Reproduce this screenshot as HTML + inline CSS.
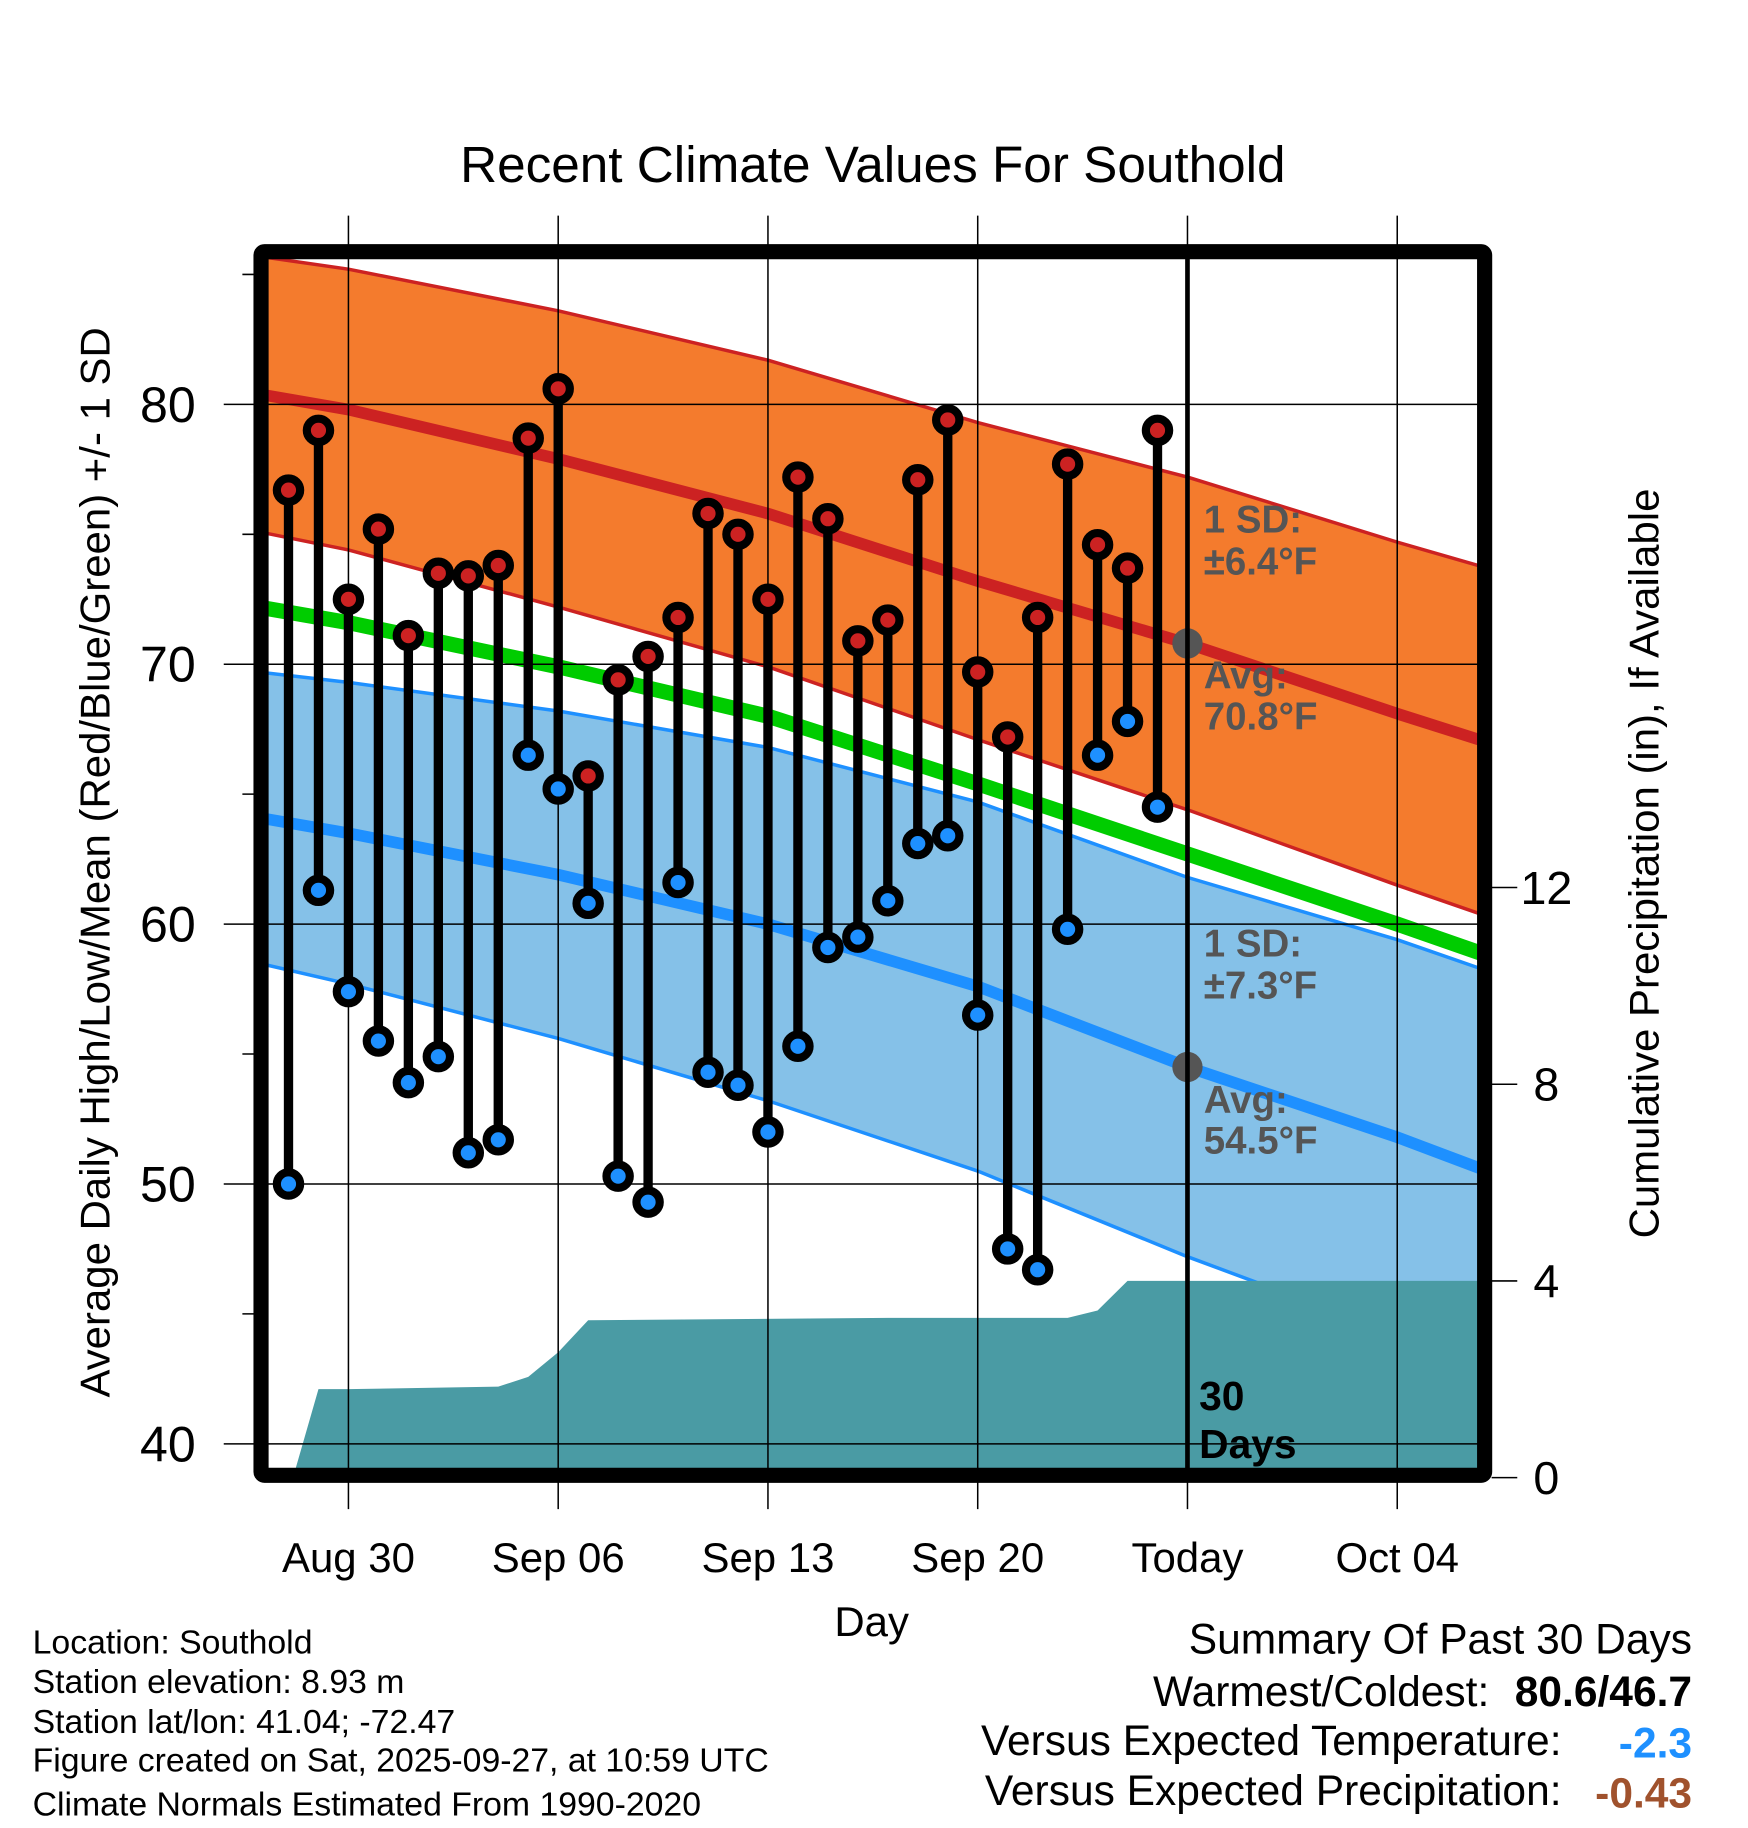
<!DOCTYPE html>
<html><head><meta charset="utf-8"><style>
html,body{margin:0;padding:0;background:#fff}
svg{display:block}
text{font-family:"Liberation Sans",Arial,sans-serif}
</style></head><body>
<svg id="chart" xmlns="http://www.w3.org/2000/svg" width="1748" height="1828" viewBox="0 0 1500 1568.65">
<defs><clipPath id="pc"><rect x="230" y="222" width="1038" height="1038"/></clipPath></defs>
<g id="plot" clip-path="url(#pc)"></g>
<g id="over"></g>
</svg>
<script>
const days=[-2,-1,0,1,2,3,4,5,6,7,8,9,10,11,12,13,14,15,16,17,18,19,20,21,22,23,24,25,26,27];
const highs=[76.7,79.0,72.5,75.2,71.1,73.5,73.4,73.8,78.7,80.6,65.7,69.4,70.3,71.8,75.8,75.0,72.5,77.2,75.6,70.9,71.7,77.1,79.4,69.7,67.2,71.8,77.7,74.6,73.7,79.0];
const lows=[50.0,61.3,57.4,55.5,53.9,54.9,51.2,51.7,66.5,65.2,60.8,50.3,49.3,61.6,54.3,53.8,52.0,55.3,59.1,59.5,60.9,63.1,63.4,56.5,47.5,46.7,59.8,66.5,67.8,64.5];
const normDays=[-3,0,7,14,21,28,35,38];
const normHigh=[80.4,79.8,77.9,75.8,73.2,70.8,68.1,67.0];
const sdHigh=[5.3,5.4,5.7,5.9,6.1,6.4,6.6,6.7];
const normLow=[64.1,63.5,61.9,60.0,57.6,54.5,51.8,50.5];
const sdLow=[5.6,5.8,6.3,6.8,7.1,7.3,7.6,7.7];
const normMean=[72.2,71.6,69.9,68.0,65.4,62.7,60.0,58.8];
const precipDays=[-1.85,-1,0,5,6,7,8,18,24,25,26,38];
const precipVals=[0,1.8,1.8,1.85,2.05,2.55,3.2,3.25,3.25,3.4,4.0,4.0];
const xTickDays=[0,7,14,21,28,35];
const xTickLabels=["Aug 30","Sep 06","Sep 13","Sep 20","Today","Oct 04"];
const yTicks=[40,50,60,70,80];
const yMinor=[45,55,65,75,85];
const pTicks=[0,4,8,12];

const X=d=>299+d*180/7;
const Y=v=>347+(80-v)*22.3;
const P=v=>1268-v*42.2;
const NS="http://www.w3.org/2000/svg";
const plot=document.getElementById('plot'),over=document.getElementById('over');
function mk(tag,attrs,parent,txt){const e=document.createElementNS(NS,tag);for(const k in attrs)e.setAttribute(k,attrs[k]);if(txt!==undefined)e.textContent=txt;parent.appendChild(e);return e;}
function line(arr,f){return normDays.map((d,i)=>X(d).toFixed(1)+','+Y(f(i)).toFixed(1)).join(' ');}
function band(up,lo){const a=normDays.map((d,i)=>X(d)+','+Y(up(i)));const b=normDays.map((d,i)=>X(d)+','+Y(lo(i))).reverse();return a.concat(b).join(' ');}

let e;
e=mk('polygon',{points:band(i=>normHigh[i]+sdHigh[i],i=>normHigh[i]-sdHigh[i]),fill:'#F47B2D'},plot);

e=mk('polygon',{points:band(i=>normLow[i]+sdLow[i],i=>normLow[i]-sdLow[i]),fill:'#85C1E8'},plot);

[[i=>normHigh[i]+sdHigh[i],'#CC2222',3],[i=>normHigh[i]-sdHigh[i],'#CC2222',3],[i=>normLow[i]+sdLow[i],'#1E90FF',3],[i=>normLow[i]-sdLow[i],'#1E90FF',3]].forEach((c,j)=>{
 e=mk('polyline',{points:line(null,c[0]),fill:'none',stroke:c[1],'stroke-width':c[2]},plot);
 
});
e=mk('polyline',{points:line(null,i=>normMean[i]),fill:'none',stroke:'#00CC00','stroke-width':13},plot);

e=mk('polyline',{points:line(null,i=>normHigh[i]),fill:'none',stroke:'#CC2222','stroke-width':10},plot);

e=mk('polyline',{points:line(null,i=>normLow[i]),fill:'none',stroke:'#1E90FF','stroke-width':10},plot);

let pp=precipDays.map((d,i)=>X(d)+','+P(precipVals[i]));
pp.push(X(precipDays[precipDays.length-1])+',1262');pp.push(X(precipDays[0])+',1262');
e=mk('polygon',{points:pp.join(' '),fill:'#4A9BA4'},plot);

xTickDays.forEach(d=>{e=mk('line',{x1:X(d),x2:X(d),y1:185,y2:1295,stroke:'#000','stroke-width':1.3},over);
 });
yTicks.forEach(v=>{e=mk('line',{x1:192,x2:1268,y1:Y(v),y2:Y(v),stroke:'#000','stroke-width':1.3},over);
 });
yMinor.forEach(v=>{e=mk('line',{x1:208,x2:222,y1:Y(v),y2:Y(v),stroke:'#000','stroke-width':1.3},over);
 });
pTicks.forEach(v=>{e=mk('line',{x1:1280,x2:1302,y1:P(v),y2:P(v),stroke:'#000','stroke-width':1.3},over);
 
 e=mk('text',{x:1327,y:P(v)+14,'text-anchor':'middle','font-size':40},over,String(v));
 });
yTicks.forEach(v=>{e=mk('text',{x:168,y:Y(v)+15,'text-anchor':'end','font-size':43},over,String(v));
 });
xTickDays.forEach((d,i)=>{e=mk('text',{x:X(d),y:1349,'text-anchor':'middle','font-size':36},over,xTickLabels[i]);
 });
e=mk('circle',{cx:X(28),cy:Y(normHigh[5]),r:13,fill:'#555'},over);

e=mk('circle',{cx:X(28),cy:Y(normLow[5]),r:13,fill:'#555'},over);

e=mk('line',{x1:X(28),x2:X(28),y1:222,y2:1262,stroke:'#000','stroke-width':4},over);

days.forEach((d,i)=>{
 e=mk('line',{x1:X(d),x2:X(d),y1:Y(highs[i]),y2:Y(lows[i]),stroke:'#000','stroke-width':8},over);
 
});
days.forEach((d,i)=>{
 e=mk('circle',{cx:X(d),cy:Y(highs[i]),r:10,fill:'#CC2222',stroke:'#000','stroke-width':7},over);
 
 e=mk('circle',{cx:X(d),cy:Y(lows[i]),r:10,fill:'#1E90FF',stroke:'#000','stroke-width':7},over);
 
});
</script>
<svg style="position:absolute;left:0;top:0" width="1748" height="1828" viewBox="0 0 1500 1568.65">
<rect x="224" y="216" width="1050" height="1050" fill="none" stroke="#000" stroke-width="13" rx="3"/>
<g font-weight="bold" fill="#555" font-size="33">
<text x="1033" y="457">1 SD:</text>
<text x="1033" y="493">±6.4°F</text>
<text x="1033" y="591">Avg:</text>
<text x="1033" y="626">70.8°F</text>
<text x="1033" y="821">1 SD:</text>
<text x="1033" y="857">±7.3°F</text>
<text x="1033" y="955">Avg:</text>
<text x="1033" y="990">54.5°F</text>
</g>
<g font-weight="bold" fill="#000" font-size="35">
<text x="1029" y="1210">30</text>
<text x="1029" y="1251">Days</text>
</g>
<text x="749" y="156" text-anchor="middle" font-size="44">Recent Climate Values For Southold</text>
<text x="748" y="1404" text-anchor="middle" font-size="36">Day</text>
<text transform="translate(94,740) rotate(-90)" text-anchor="middle" font-size="36">Average Daily High/Low/Mean (Red/Blue/Green) +/- 1 SD</text>
<text transform="translate(1423,741) rotate(-90)" text-anchor="middle" font-size="36">Cumulative Precipitation (in), If Available</text>
<g font-size="29">
<text x="28" y="1419">Location: Southold</text>
<text x="28" y="1453">Station elevation: 8.93 m</text>
<text x="28" y="1487">Station lat/lon: 41.04; -72.47</text>
<text x="28" y="1520">Figure created on Sat, 2025-09-27, at 10:59 UTC</text>
<text x="28" y="1558">Climate Normals Estimated From 1990-2020</text>
</g>
<g font-size="36.5">
<text x="1452" y="1419" text-anchor="end">Summary Of Past 30 Days</text>
<text x="1278" y="1464" text-anchor="end">Warmest/Coldest:</text>
<text x="1452" y="1464" text-anchor="end" font-weight="bold">80.6/46.7</text>
<text x="1340" y="1506" text-anchor="end">Versus Expected Temperature:</text>
<text x="1452" y="1508" text-anchor="end" font-weight="bold" fill="#1E90FF">-2.3</text>
<text x="1340" y="1549" text-anchor="end">Versus Expected Precipitation:</text>
<text x="1452" y="1551" text-anchor="end" font-weight="bold" fill="#A0522D">-0.43</text>
</g>
</svg>
</body></html>
